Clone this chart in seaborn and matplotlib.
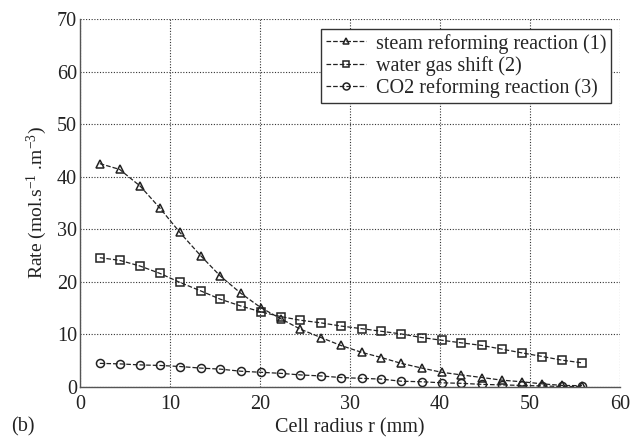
import matplotlib
matplotlib.use("Agg")
import matplotlib.pyplot as plt
import seaborn as sns
import pandas as pd

radius = [2.2, 4.4, 6.7, 8.9, 11.1, 13.4, 15.6, 17.9, 20.1, 22.3, 24.5, 26.8, 29.0,
          31.3, 33.5, 35.7, 38.0, 40.2, 42.4, 44.7, 46.9, 49.1, 51.4, 53.6, 55.8]
steam = [42.5, 41.4, 38.2, 34.0, 29.4, 25.0, 21.1, 17.8, 15.1, 13.0, 11.0, 9.4, 7.9,
         6.6, 5.6, 4.5, 3.6, 2.8, 2.3, 1.8, 1.3, 1.0, 0.6, 0.3, 0.25]
wgs = [24.6, 24.1, 23.0, 21.6, 19.9, 18.3, 16.7, 15.4, 14.3, 13.4, 12.7, 12.2, 11.6,
       11.1, 10.6, 10.1, 9.4, 8.9, 8.4, 7.9, 7.2, 6.5, 5.8, 5.1, 4.6]
co2 = [4.5, 4.4, 4.2, 4.1, 3.9, 3.6, 3.4, 3.0, 2.8, 2.6, 2.3, 2.1, 1.8,
       1.65, 1.5, 1.1, 1.0, 0.8, 0.7, 0.5, 0.4, 0.3, 0.2, 0.1, 0.1]
labels = ["steam reforming reaction (1)", "water gas shift (2)", "CO2 reforming reaction (3)"]
markers = ["^", "s", "o"]

sns.set_theme(style="white")
plt.rcParams["font.family"] = ["Liberation Serif", "DejaVu Serif"]
plt.rcParams["mathtext.fontset"] = "custom"
plt.rcParams["mathtext.rm"] = "Liberation Serif"
plt.rcParams["mathtext.it"] = "Liberation Serif:italic"

df = pd.DataFrame({"r": radius * 3,
                   "rate": steam + wgs + co2,
                   "series": [labels[0]] * len(radius) + [labels[1]] * len(radius) + [labels[2]] * len(radius)})

fig = plt.figure(figsize=(6.37, 4.37), dpi=100)
ax = fig.add_axes([0.1256, 0.1144, 0.8474, 0.842])

for lab, mk in zip(labels, markers):
    sub = df[df["series"] == lab]
    sns.lineplot(data=sub, x="r", y="rate", ax=ax, color="#222222", linestyle="--",
                 linewidth=0.9, marker=mk, markersize=5.8, markerfacecolor="none",
                 markeredgecolor="#222222", markeredgewidth=1.1, label=lab,
                 dashes=(3, 1.5))

ax.set_xlim(0, 60)
ax.set_ylim(0, 70)
ax.set_xticks(range(0, 61, 10))
ax.set_yticks(range(0, 71, 10))
ax.grid(True, color="#333333", linestyle=(0, (1, 1.5)), linewidth=0.8)
for s in ["top", "right"]:
    ax.spines[s].set_visible(False)
for s in ["left", "bottom"]:
    ax.spines[s].set_color("#555555")
    ax.spines[s].set_linewidth(1.0)
ax.tick_params(axis="both", labelsize=14.5, length=0, colors="#222222")
ax.tick_params(axis="x", pad=6)
ax.tick_params(axis="y", pad=2)
ax.set_xlabel("Cell radius r (mm)", fontsize=14.5, color="#222222", labelpad=3)
ax.set_ylabel("Rate (mol.s$^{-1}$ .m$^{-3}$)", fontsize=14, color="#222222", labelpad=6)

leg = ax.legend(loc="upper right", bbox_to_anchor=(0.992, 0.985), fontsize=14.5,
                frameon=True, fancybox=False, framealpha=1, edgecolor="#333333",
                handlelength=2.0, handletextpad=0.5, borderpad=0.25, labelspacing=0.12,
                borderaxespad=0.2)
leg.get_frame().set_linewidth(1.0)
for h in leg.legend_handles:
    h.set_markersize(5)

fig.text(0.018, 0.012, "(b)", fontsize=14.5, color="#222222")
fig.savefig("out.png", dpi=100)
